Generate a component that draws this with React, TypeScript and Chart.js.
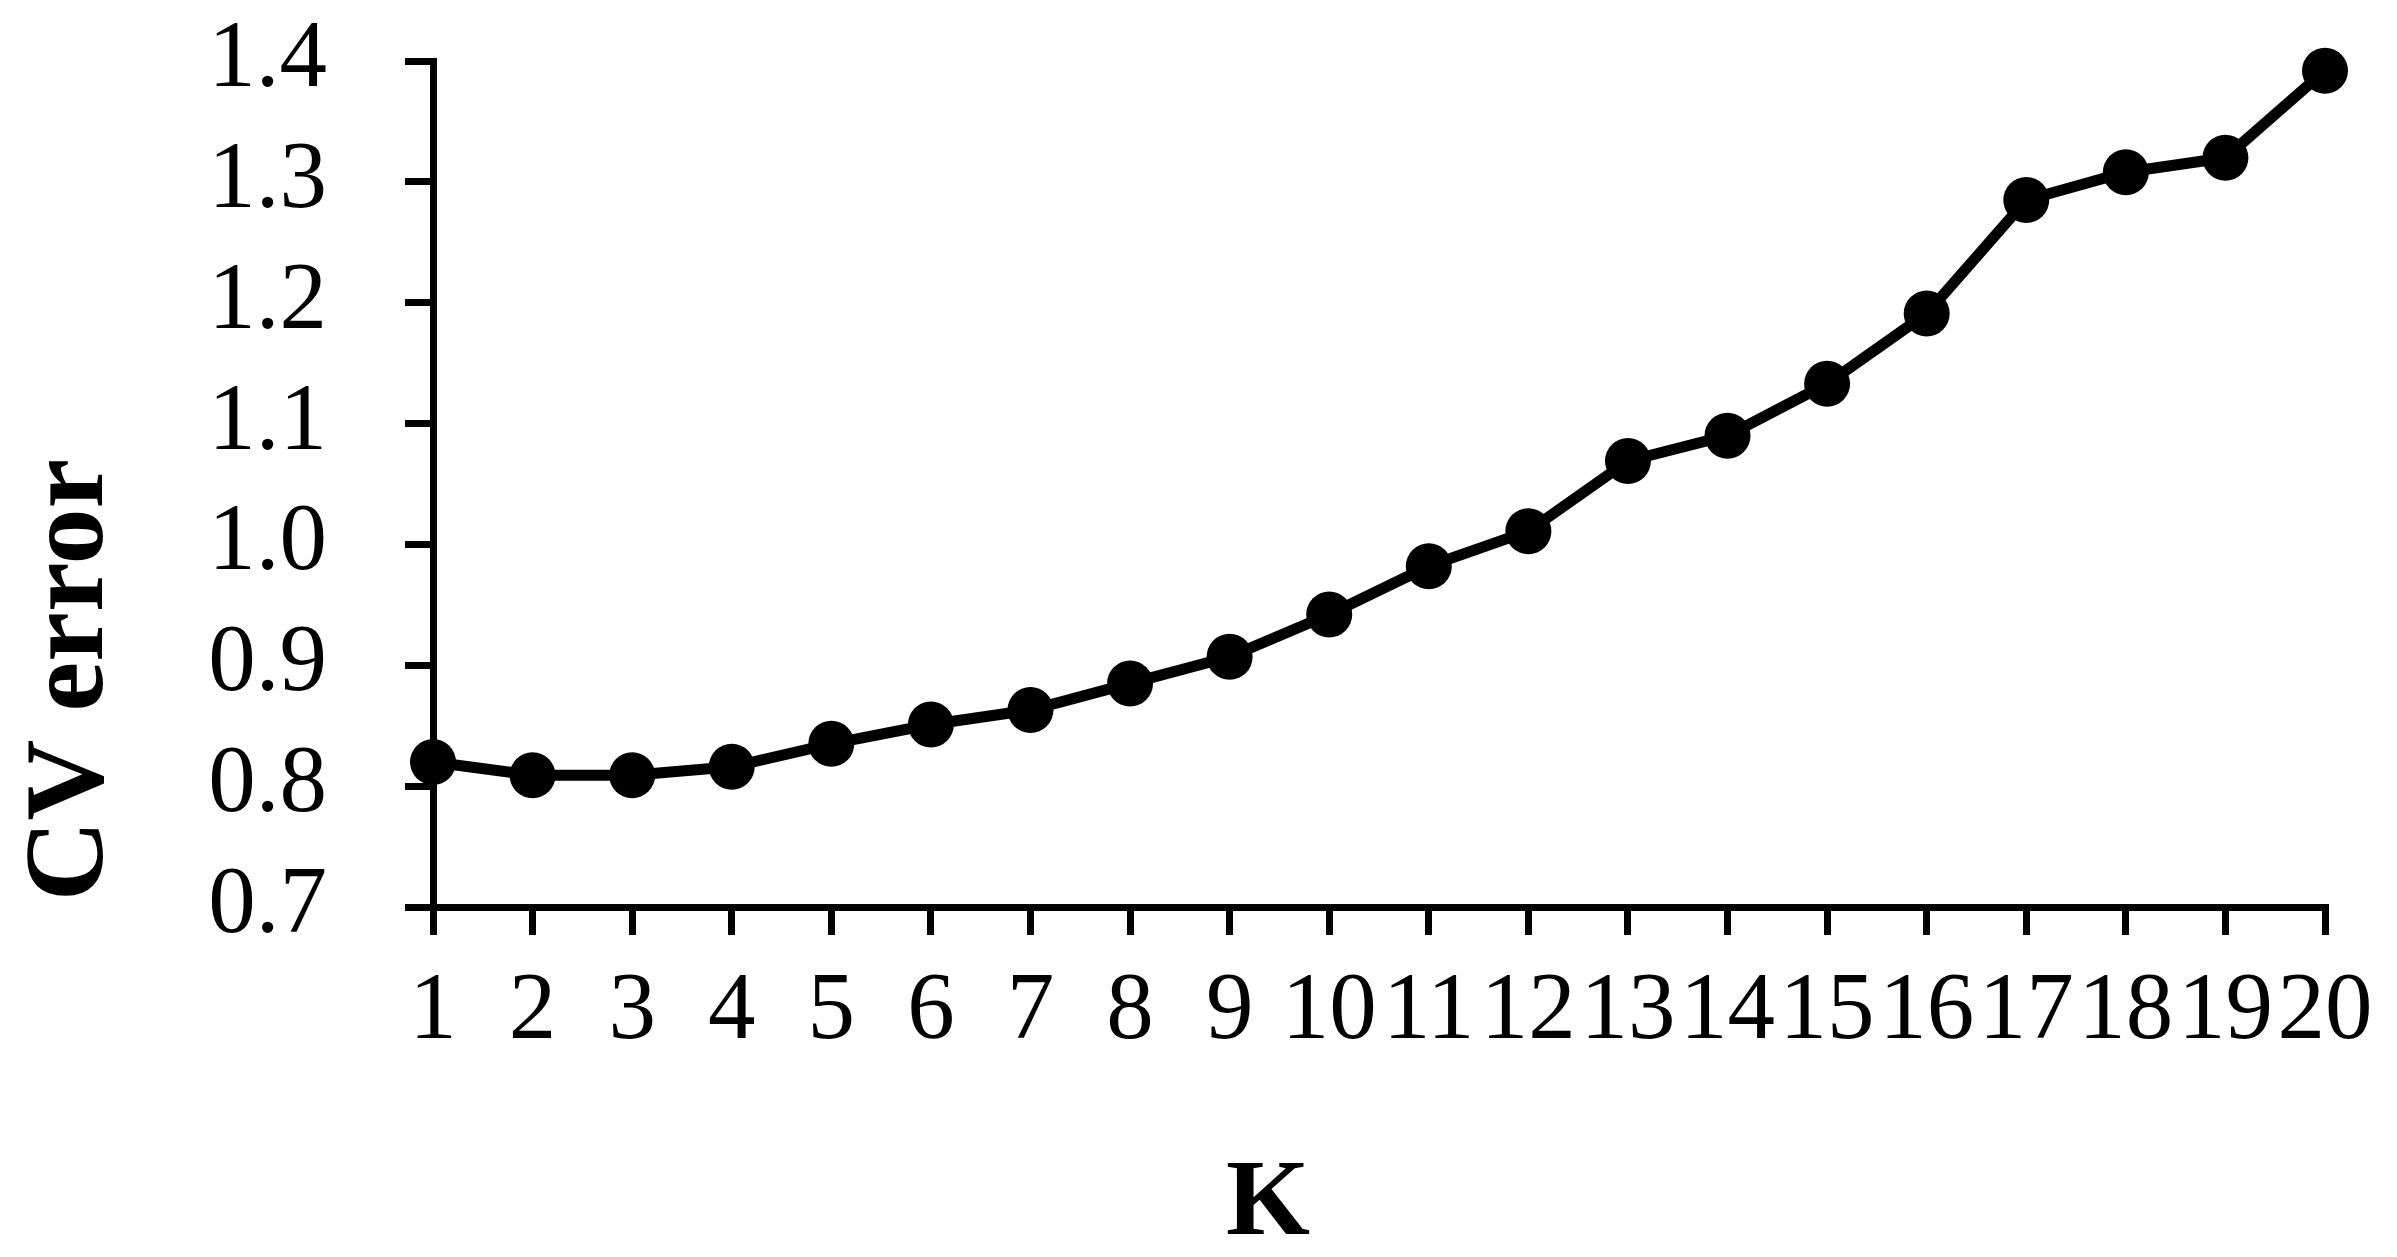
import React, { useEffect, useRef } from "react";
import { Chart, registerables } from "chart.js";

Chart.register(...registerables);

const kLabels: string[] = ["1", "2", "3", "4", "5", "6", "7", "8", "9", "10", "11", "12", "13", "14", "15", "16", "17", "18", "19", "20"];
const cvError: number[] = [0.820, 0.809, 0.809, 0.816, 0.835, 0.851, 0.863, 0.885, 0.907, 0.942, 0.982, 1.011, 1.069, 1.090, 1.133, 1.191, 1.285, 1.308, 1.320, 1.392];
const yTitle = "CV error";
const xTitle = "K";

const W = 2397;
const H = 1257;
const FAMILY = '"Liberation Serif", "Times New Roman", Times, serif';

const titlePlugin = {
  id: "axisTitles",
  afterDraw(chart: any) {
    const ctx = chart.ctx as CanvasRenderingContext2D;
    const area = chart.chartArea;
    ctx.save();
    ctx.fillStyle = "#000";
    ctx.textAlign = "center";
    ctx.textBaseline = "alphabetic";
    ctx.save();
    ctx.font = "bold 112px " + FAMILY;
    ctx.translate(102, area.top + 619);
    ctx.rotate(-Math.PI / 2);
    ctx.fillText(yTitle, 0, 0);
    ctx.restore();
    ctx.font = "bold 108px " + FAMILY;
    ctx.fillText(xTitle, area.left + 835, area.bottom + 327);
    ctx.restore();
  },
};

export default function App() {
  const ref = useRef<HTMLCanvasElement | null>(null);

  useEffect(() => {
    if (!ref.current) return;
    const tickFont = { family: FAMILY, size: 95 };
    const chart = new Chart(ref.current, {
      type: "line",
      data: {
        labels: kLabels,
        datasets: [
          {
            data: cvError,
            borderColor: "#000",
            backgroundColor: "#000",
            borderWidth: 11,
            pointRadius: 23,
            pointHoverRadius: 23,
            pointBackgroundColor: "#000",
            pointBorderWidth: 0,
            tension: 0,
            clip: false as any,
          },
        ],
      },
      options: {
        animation: false,
        responsive: false,
        maintainAspectRatio: false,
        events: [],
        layout: { padding: { left: 0, right: 72, top: 61, bottom: 0 } },
        plugins: {
          legend: { display: false },
          tooltip: { enabled: false },
          title: { display: false },
        },
        scales: {
          x: {
            type: "category",
            offset: false,
            grid: {
              display: true,
              drawOnChartArea: false,
              drawTicks: true,
              tickLength: 28,
              color: "#000",
              lineWidth: 7,
            },
            border: { display: true, color: "#000", width: 7 },
            ticks: {
              color: "#000",
              font: tickFont,
              autoSkip: false,
              maxRotation: 0,
              minRotation: 0,
              padding: 21,
            },
            afterFit: (scale: any) => {
              scale.height = 350;
              scale.paddingLeft = 0;
              scale.paddingRight = 0;
            },
          },
          y: {
            type: "linear",
            min: 0.7,
            max: 1.4,
            grid: {
              display: true,
              drawOnChartArea: false,
              drawTicks: true,
              tickLength: 28,
              color: "#000",
              lineWidth: 7,
            },
            border: { display: true, color: "#000", width: 7 },
            ticks: {
              color: "#000",
              font: tickFont,
              stepSize: 0.1,
              autoSkip: false,
              padding: 78,
              callback: (v: any) => Number(v).toFixed(1),
            },
            afterFit: (scale: any) => {
              scale.width = 433;
              scale.paddingTop = 0;
              scale.paddingBottom = 0;
            },
          },
        },
      },
      plugins: [titlePlugin],
    });
    return () => chart.destroy();
  }, []);

  return (
    <div style={{ position: "absolute", left: 0, top: 0, width: W, height: H, background: "#fff" }}>
      <canvas ref={ref} width={W} height={H} style={{ display: "block", width: W, height: H }} />
    </div>
  );
}
